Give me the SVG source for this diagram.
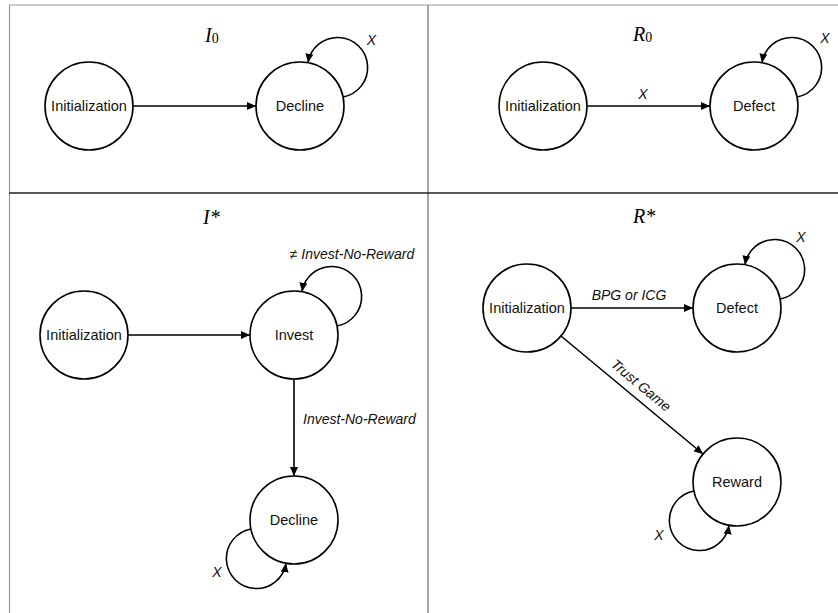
<svg xmlns="http://www.w3.org/2000/svg" width="838" height="613" viewBox="0 0 838 613">
<defs>
<style>
.node circle{fill:#fff;stroke:#000;stroke-width:1.6}
.node text{font-family:"Liberation Sans",Arial,sans-serif;font-size:14.5px;text-anchor:middle;fill:#111}
.edge{fill:none;stroke:#000;stroke-width:1.6;marker-end:url(#arr)}
.lbl{font-family:"Liberation Sans",Arial,sans-serif;font-size:14px;font-style:italic;fill:#111}
.title{font-family:"Liberation Serif","Times New Roman",serif;font-size:20px;font-style:italic;fill:#000}
</style>
<marker id="arr" viewBox="0 0 9 8" refX="9" refY="4" markerWidth="9" markerHeight="8" markerUnits="userSpaceOnUse" orient="auto">
<path d="M0,0 L9,4 L0,8 z" fill="#000"/>
</marker>
</defs>
<rect width="838" height="613" fill="#fff"/>
<g id="frame">
<line x1="9" y1="5" x2="838" y2="5" stroke="#9a9a9a" stroke-width="1.2"/>
<line x1="9.5" y1="5" x2="9.5" y2="613" stroke="#9a9a9a" stroke-width="1.2"/>
<line x1="428" y1="5" x2="428" y2="613" stroke="#808080" stroke-width="1.4"/>
<line x1="9" y1="193" x2="838" y2="193" stroke="#222" stroke-width="1.6"/>
</g>
<g id="titles">
<text class="title" x="205" y="42">I<tspan font-style="normal" font-size="14" dy="1">0</tspan></text>
<text class="title" x="633" y="41">R<tspan font-style="normal" font-size="14" dy="1">0</tspan></text>
<text class="title" x="203" y="224">I*</text>
<text class="title" x="633" y="223">R*</text>
</g>
<g id="connectors">
<path class="edge" d="M133,106 L256,106"/>
<path class="edge" d="M343.1,97 A30,30 0 1 0 308,62.7"/>
<path class="edge" d="M587,106 L710,106"/>
<path class="edge" d="M797.1,97 A30,30 0 1 0 762,62.7"/>
<path class="edge" d="M128,335 L250,335"/>
<path class="edge" d="M337.1,326 A30,30 0 1 0 302,291.7"/>
<path class="edge" d="M294,379 L294,476"/>
<path class="edge" d="M250.9,529 A30,30 0 1 0 286,563.3"/>
<path class="edge" d="M571,308 L693,308"/>
<path class="edge" d="M780.1,299 A30,30 0 1 0 745,264.7"/>
<path class="edge" d="M561,336 L703,454"/>
<path class="edge" d="M693.9,491 A30,30 0 1 0 729,525.3"/>
</g>
<g id="edge-labels">
<text class="lbl" x="371.5" y="45" text-anchor="middle">X</text>
<text class="lbl" x="643" y="99" text-anchor="middle">X</text>
<text class="lbl" x="825" y="43" text-anchor="middle">X</text>
<text class="lbl" x="352" y="259" text-anchor="middle">≠ Invest-No-Reward</text>
<text class="lbl" x="303" y="424">Invest-No-Reward</text>
<text class="lbl" x="217" y="577" text-anchor="middle">X</text>
<text class="lbl" x="629" y="300" text-anchor="middle">BPG or ICG</text>
<text class="lbl" x="801" y="242" text-anchor="middle">X</text>
<text class="lbl" x="638" y="389" text-anchor="middle" transform="rotate(39.6 638 389)">Trust Game</text>
<text class="lbl" x="659" y="540" text-anchor="middle">X</text>
</g>
<g id="node-i0-init" class="node"><circle cx="89" cy="106" r="44"/><text x="89" y="111">Initialization</text></g>
<g id="node-i0-decline" class="node"><circle cx="300" cy="106" r="44"/><text x="300" y="111">Decline</text></g>
<g id="node-r0-init" class="node"><circle cx="543" cy="106" r="44"/><text x="543" y="111">Initialization</text></g>
<g id="node-r0-defect" class="node"><circle cx="754" cy="106" r="44"/><text x="754" y="111">Defect</text></g>
<g id="node-istar-init" class="node"><circle cx="84" cy="335" r="44"/><text x="84" y="340">Initialization</text></g>
<g id="node-istar-invest" class="node"><circle cx="294" cy="335" r="44"/><text x="294" y="340">Invest</text></g>
<g id="node-istar-decline" class="node"><circle cx="294" cy="520" r="44"/><text x="294" y="525">Decline</text></g>
<g id="node-rstar-init" class="node"><circle cx="527" cy="308" r="44"/><text x="527" y="313">Initialization</text></g>
<g id="node-rstar-defect" class="node"><circle cx="737" cy="308" r="44"/><text x="737" y="313">Defect</text></g>
<g id="node-rstar-reward" class="node"><circle cx="737" cy="482" r="44"/><text x="737" y="487">Reward</text></g>
</svg>
